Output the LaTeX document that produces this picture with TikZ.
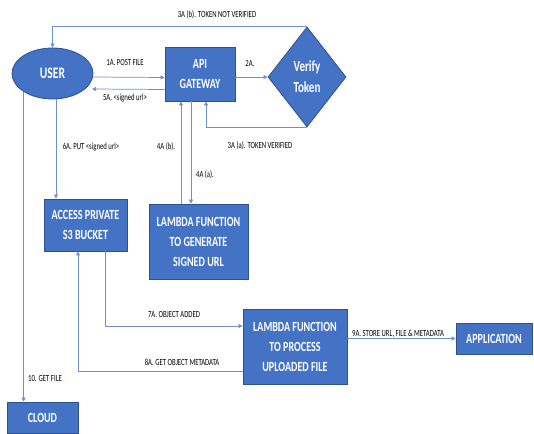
\documentclass[tikz,border=0pt]{standalone}
\usepackage{fontspec}
\setmainfont{Carlito}
\newfontfamily\boxfont[FakeStretch=0.72]{Carlito}
\newfontfamily\lblfont[FakeStretch=0.72]{Carlito}
\usetikzlibrary{shapes.geometric,arrows.meta,positioning}
\definecolor{boxblue}{HTML}{4472C4}
\definecolor{boxedge}{HTML}{2F528F}
\definecolor{linkblue}{HTML}{6E8FD0}
\tikzset{
  shapebox/.style={draw=boxedge, line width=0.6pt, fill=boxblue, text=white, align=center,
    inner sep=0pt, font=\boxfont\bfseries\fontsize{10.5}{15}\selectfont},
  rectbox/.style={shapebox, rectangle},
  link/.style={draw=linkblue, line width=0.55pt},
  arr/.style={link, -{Triangle[length=3pt,width=3pt]}},
  lbl/.style={font=\lblfont\fontsize{7}{8}\selectfont, text=black, inner sep=0pt}
}
\begin{document}
\begin{tikzpicture}[x=0.75pt,y=-0.75pt]
\fill[white] (0,0) rectangle (534,434);
\useasboundingbox (0,0) rectangle (534,434);

% nodes
\node[shapebox, ellipse, minimum width=60.75pt, minimum height=38.25pt, font=\boxfont\bfseries\fontsize{12}{15}\selectfont] (user) at (52.5,73.5) {USER};
\node[rectbox, minimum width=52.5pt, minimum height=40.5pt] (api) at (200,74) {API\\GATEWAY};
\node[shapebox, diamond, aspect=0.78, minimum width=58.5pt, minimum height=75pt, font=\boxfont\bfseries\fontsize{11.5}{16}\selectfont] (verify) at (307,77) {Verify\\Token};
\node[rectbox, minimum width=62.25pt, minimum height=39pt] (s3) at (85.5,225) {ACCESS PRIVATE\\S3 BUCKET};
\node[rectbox, minimum width=74.25pt, minimum height=56.25pt] (gen) at (198.5,241.5) {LAMBDA FUNCTION\\TO GENERATE\\SIGNED URL};
\node[rectbox, minimum width=78pt, minimum height=56.25pt] (proc) at (295,346.5) {LAMBDA FUNCTION\\TO PROCESS\\UPLOADED FILE};
\node[rectbox, minimum width=57pt, minimum height=23.25pt] (app) at (494,338.5) {APPLICATION};
\node[rectbox, minimum width=53.25pt, minimum height=23.25pt] (cloud) at (42.5,417.5) {CLOUD};

% connectors
\draw[arr] ([yshift=-3.5*0.75pt]user.east) -- ([yshift=-3.5*0.75pt]api.west);
\draw[arr] ([yshift=-15.5*0.75pt]api.west) -- ([yshift=-15.5*0.75pt,xshift=-1pt]user.east);
\draw[arr] (api.east |- verify.west) -- (verify.west);
\draw[arr] (verify.north) -- (verify.north -| user.north) -- (user.north);
\draw[arr] (verify.south) -| ([xshift=6*0.75pt]api.south);
\draw[arr] ([xshift=-17.5*0.75pt]gen.north) -- ([xshift=-17.5*0.75pt]gen.north |- api.south);
\draw[arr] ([xshift=-9*0.75pt]api.south) -- ([xshift=-9*0.75pt]api.south |- gen.north);
\draw[arr] ([xshift=3.5*0.75pt]user.south) -- ([xshift=3.5*0.75pt]user.south |- s3.north);
\draw[arr] (user.south west) -- (user.south west |- cloud.north);
\draw[arr] ([xshift=19.5*0.75pt]s3.south) |- ([yshift=20.5*0.75pt]proc.west);
\draw[arr] ([yshift=-24.5*0.75pt]proc.west) -| ([xshift=-7.5*0.75pt]s3.south);
\draw[arr] (proc.east |- app.west) -- (app.west);

% labels
\node[lbl] (l3b) at (217,15) {3A (b). TOKEN NOT VERIFIED};
\node[lbl] (l1a) at (125,63) {1A. POST FILE};
\node[lbl] (l5a) at (125,98) {5A. <signed url>};
\node[lbl] (l2a) at (250,64) {2A.};
\node[lbl] (l6a) at (91,147) {6A. PUT <signed url>};
\node[lbl] (l4b) at (166,147) {4A (b).};
\node[lbl] (l3a) at (260,146) {3A (a). TOKEN VERIFIED};
\node[lbl] (l4a) at (205,175) {4A (a).};
\node[lbl] (l7a) at (174,315) {7A. OBJECT ADDED};
\node[lbl] (l8a) at (182,362) {8A. GET OBJECT METADATA};
\node[lbl] (l9a) at (398,334) {9A. STORE URL, FILE \& METADATA};
\node[lbl] (l10) at (45,379) {10. GET FILE};
\end{tikzpicture}
\end{document}
